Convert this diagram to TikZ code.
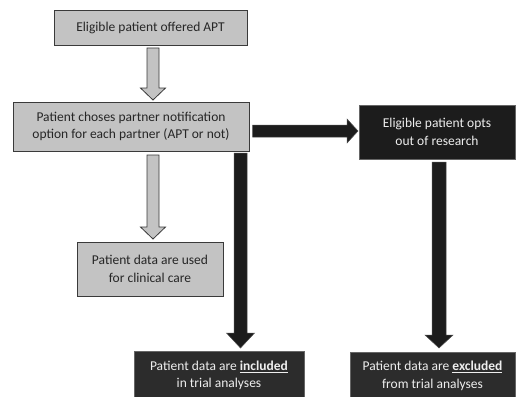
\documentclass[tikz,border=0pt]{standalone}
\usepackage{fontspec}
\setmainfont{Carlito}
\usetikzlibrary{calc}
\definecolor{boxgray}{HTML}{C3C3C3}
\definecolor{edgegray}{HTML}{3A3A3A}
\definecolor{darkbox}{HTML}{1C1C1C}
\definecolor{midbox}{HTML}{2C2C2C}
\definecolor{lighttext}{HTML}{EEEEEE}
\tikzset{
  graybox/.style={draw=edgegray, fill=boxgray, line width=0.9pt, align=center, inner sep=0pt, font=\fontsize{13.5}{17.5}\selectfont, text=black!85},
  blackbox/.style={draw=black!60, fill=darkbox, line width=0.6pt, align=center, inner sep=0pt, font=\fontsize{13.5}{17.5}\selectfont, text=lighttext},
  midboxst/.style={draw=black!60, fill=midbox, line width=0.6pt, align=center, inner sep=0pt, font=\fontsize{13.5}{17.5}\selectfont, text=lighttext},
  grayarrow/.style={draw=edgegray, fill=boxgray, line width=0.8pt, line join=miter},
  blackarrow/.style={draw=black!70, fill=darkbox, line width=0.5pt, line join=miter}
}
\begin{document}
\begin{tikzpicture}[x=1pt,y=-1pt]
\useasboundingbox (0,0) rectangle (516,396);
\fill[white] (0,0) rectangle (516,396);
\node[graybox, minimum width=193pt, minimum height=35pt] (b1) at (150.5,27.5) {Eligible patient offered APT};
\node[graybox, minimum width=236pt, minimum height=49pt] (b2) at (131,126.5) {Patient choses partner notification\\option for each partner (APT or not)};
\node[blackbox, minimum width=156pt, minimum height=54pt] (b3) at (437,132) {Eligible patient opts\\out of research};
\node[graybox, minimum width=146pt, minimum height=54pt] (b4) at (150,269) {Patient data are used\\for clinical care};
\node[midboxst, minimum width=170pt, minimum height=49pt] (b5) at (219,375.5) {Patient data are \underline{\textbf{included}}\\in trial analyses};
\node[midboxst, minimum width=165pt, minimum height=48pt] (b6) at (432.5,376) {Patient data are \underline{\textbf{excluded}}\\from trial analyses};
% gray arrow b1 -> b2
\draw[grayarrow] (147,48) -- (159,48) -- (159,88) -- (165.5,88) -- (153,100) -- (140.5,88) -- (147,88) -- cycle;
% gray arrow b2 -> b4
\draw[grayarrow] (147,155) -- (159,155) -- (159,227) -- (165.5,227) -- (153,239) -- (140.5,227) -- (147,227) -- cycle;
% black arrow b2 -> b5
\draw[blackarrow] (234,153) -- (247,153) -- (247,333) -- (254.5,333) -- (240.5,348) -- (226.5,333) -- (234,333) -- cycle;
% black arrow b3 -> b6
\draw[blackarrow] (432,162) -- (446,162) -- (446,335) -- (453,335) -- (439,348) -- (425,335) -- (432,335) -- cycle;
% black arrow b2 -> b3
\draw[blackarrow] (252.5,125) -- (347,125) -- (347,119) -- (358,131) -- (347,143) -- (347,137) -- (252.5,137) -- cycle;
\end{tikzpicture}
\end{document}
